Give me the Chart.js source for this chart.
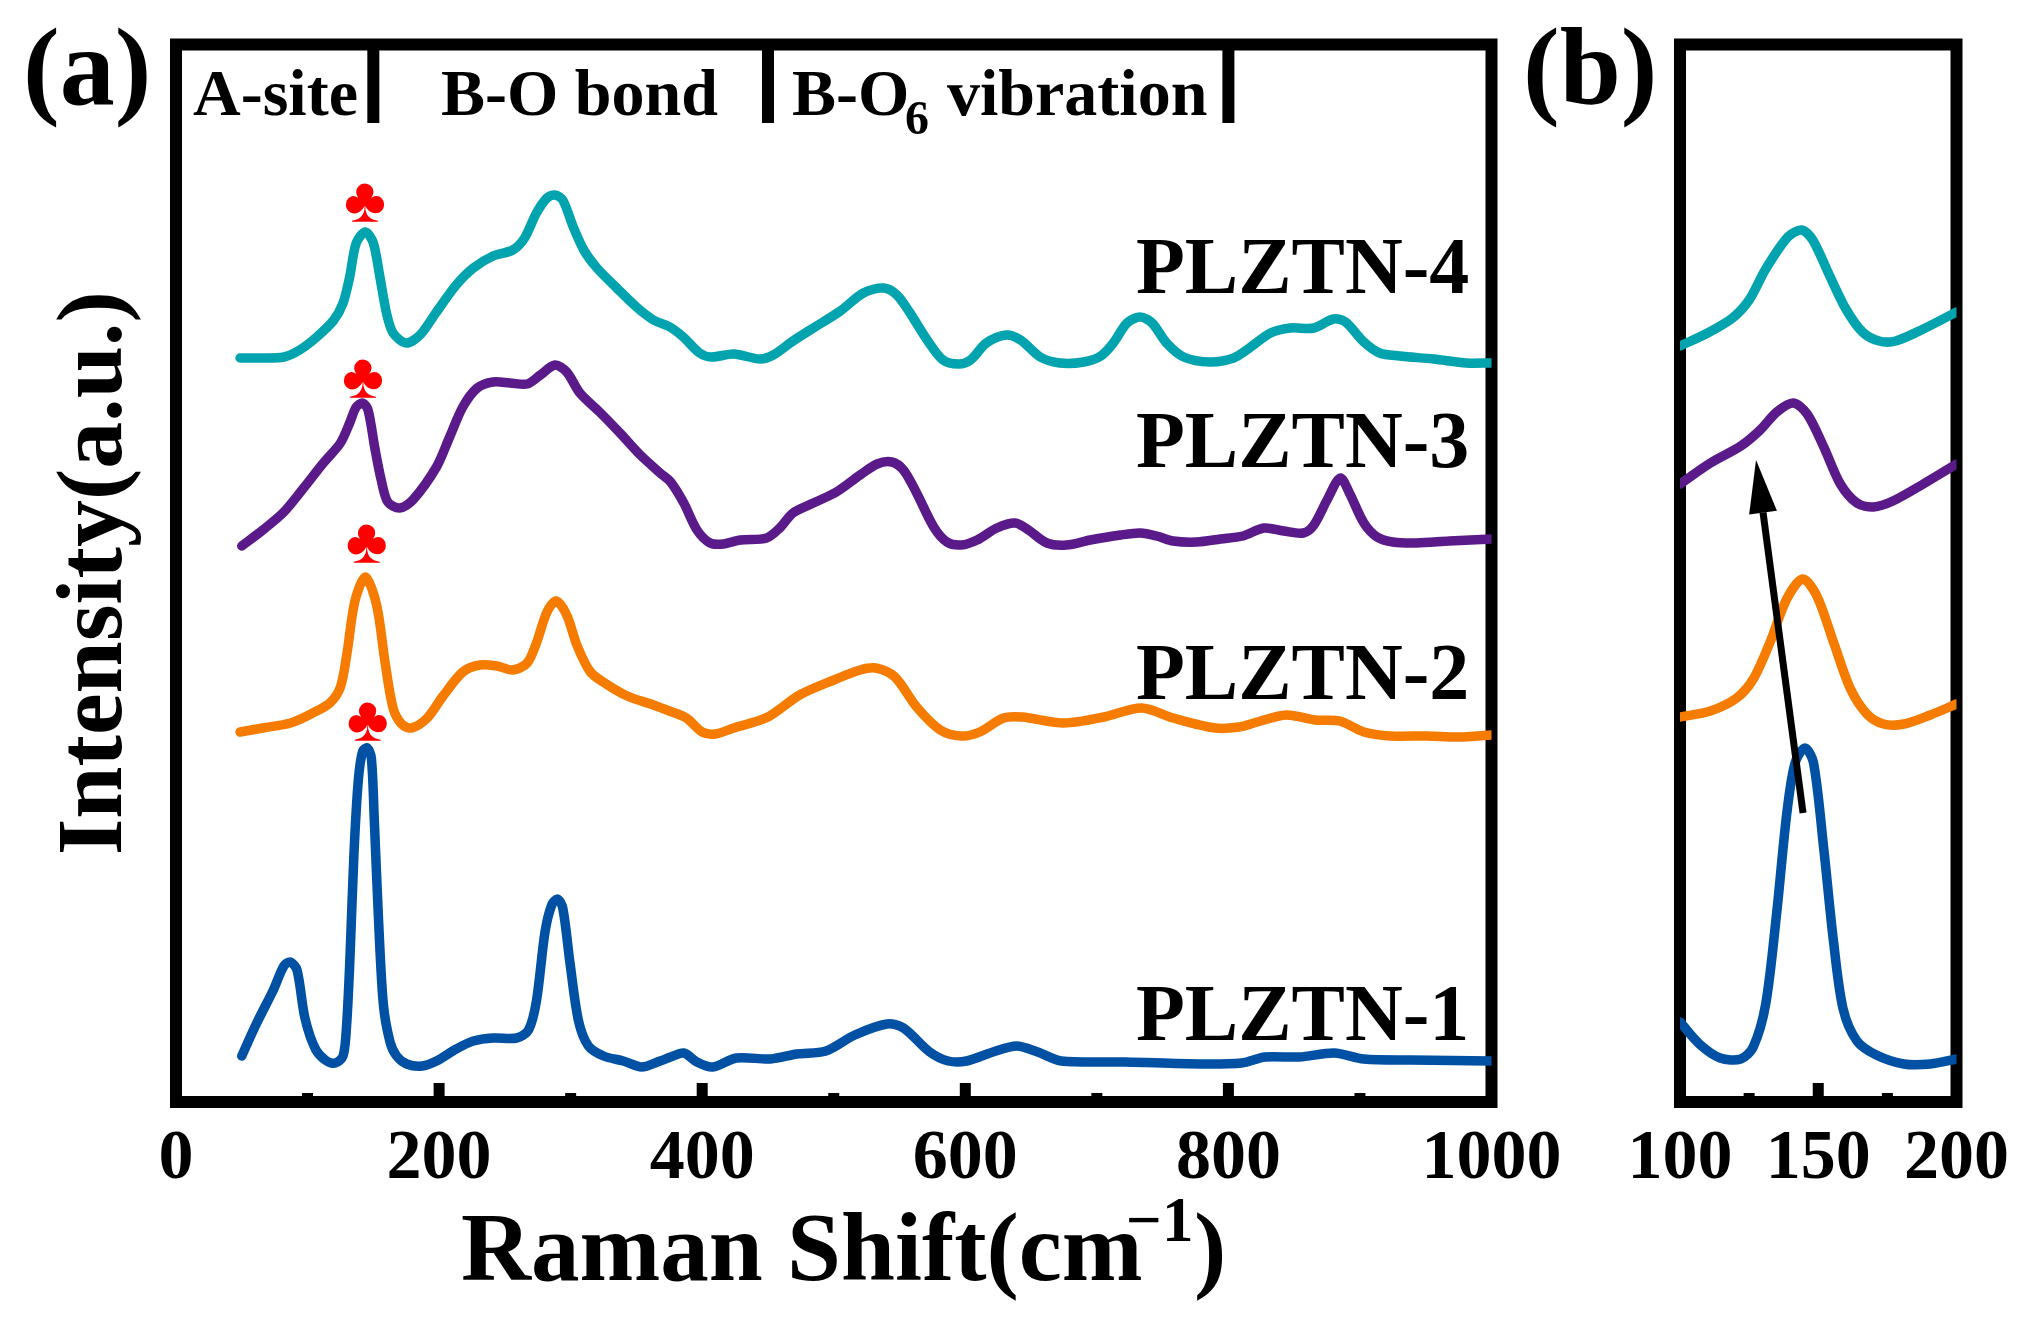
<!DOCTYPE html>
<html>
<head>
<meta charset="utf-8">
<title>Raman spectra of PLZTN</title>
<script src="https://cdn.jsdelivr.net/npm/chart.js@4"></script>
<style>
  html, body { margin: 0; padding: 0; background: #fff; }
  #page { position: relative; width: 2032px; height: 1332px; overflow: hidden; }
  .box { position: absolute; top: 0; height: 1332px; }
  #boxA { left: 0; width: 1570px; }
  #boxB { left: 1520px; width: 512px; }
</style>
</head>
<body>
<div id="page">
  <div class="box" id="boxA"><canvas id="graficoA"></canvas></div>
  <div class="box" id="boxB"><canvas id="graficoB"></canvas></div>
</div>
<script>
// panel (a), full range
const shift4 = [48.7,66,82,94,107,120,127,132,137,144,150,155,160,165,175,185.5,198,213,226,241,256,265,274,282,288,294,302,310,320,335,350,363,375.5,385.6,398,407,424,444,454,469,484.5,505,522.5,538,548,558,571,583,595,604,616,631,642,657,672,690,703,712.5,723,733,742,753,766,786,804,816,832,847,865,880,889,903,915,930,956,981,1000];
const int4 = [744,744,745,752,765,782,799,825,859,870,859,825,789,769,759,767,790,817,834,846,852,864,889,904,907,902,875,852,834,814,795,782,775,765,749,745,748,743,747,761,774,791,809,814,807,789,762,742,738,742,759,767,762,745,739,740,746,759,779,785,779,759,745,740,744,754,769,774,774,783,780,760,749,746,743,739,739];

const shift3 = [50,66,82,97,112,125,132,137,142,146,151,156,161,170,180,198,208,218,229,241,254,267,277,288,297,307,322,337.5,353,368,376,386,396,406,416,429,449,459,469,484.5,502,520,533,544,553,563,576,586,597,609,624,638,648,662,677,695,718,733,745.5,758,776,794,811,827,842,857,865,875,885,892,903,913,925,943,968,1000];
const int3 = [556,572,590,614,639,659,679,695,699,692,655,622,600,594,602,635,665,695,714,720,719,718,727,737,730,709,690,669,647,629,620,599,572,559,558,562,564,574,589,599,610,627,638,640,632,609,575,560,557,562,574,579,572,559,557,562,567,569,566,561,560,563,566,574,571,569,577,602,624,609,579,565,560,559,561,563];

const shift2 = [48.7,66,87,104,117,125,130,136,144,152.5,159,165,171.5,179,191,203,218,231,244,256,267,274,282,289,297,305,315,327,343,363,375,388,400,410,424,450,474,500,520,532,546.5,563,581,597,611,629,643,675,705.5,734,758,790,808,822,844,866,884.5,903,923,951,975,1000];
const int2 = [370,374,379,389,399,415,449,501,525,497,439,394,378,374,384,406,430,437,436,432,439,459,490,501,487,456,430,418,406,397,391,384,370,368,374,385,407,422,432,434,425,395,372,366,370,384,385,379,385,394,384,374,375,380,387,382,381,370,366,366,365,367];

const shift1 = [50,61,74,82,87,92,98,106,114.5,121,127,129.7,132.3,135.3,138.6,141.9,145.4,148.5,150.8,153.8,157.6,162.7,167.7,175.4,187,198,213,226,241,259,268,274,280.5,285.6,290,294,299.5,306,313.5,325,340,354,368,376,386,396,408,426,452,472,494,516,540.5,553,573,587,601,621,639,655,673,722,778,810,828,854,880.5,903,939,1000];
const int1 = [46,78,112,136,140,132,84,53,41,39,46,77,146,249,322,351,354,344,280,187,98,60,46,38,36,41,53,61,64,64,72,101,170,197,203,194,139,81,56,46,41,35,41,45,49,40,35,44,43,48,51,67,78,74,50,41,41,50,56,50,41,40,38,39,45,45,49,43,42,41];

// panel (b), zoom on the A-site peak
const zoomShift4 = [100,110,119,125,131,139,144,148,154,160,166,172,178,188,200];
const zoomInt4 = [756,769,784,802,833,865,872,862,827,793,770,761,761,773,790];
const zoomShift3 = [100,111,122,129,135,141,146,152,158,164,170,177,188,200];
const zoomInt3 = [618,639,656,672,690,699,688,655,618,599,595,601,618,638];
const zoomShift2 = [100,111,120.5,126.5,132.6,138.6,144.4,149.5,155.5,161.5,167.6,173.6,181,190.5,200];
const zoomInt2 = [385,391,404,423,460,503,523,506,460,414,388,378,378,387,398];
const zoomShift1 = [100,107,114.5,122,126.5,131,135,138.6,141.6,145.2,148.3,152,155.5,159,164,171,181,190.5,200];
const zoomInt1 = [80,58,44,43,55,98,190,288,339,354,339,253,161,93,61,47,38,38,43];

const nomes = ['PLZTN-1', 'PLZTN-2', 'PLZTN-3', 'PLZTN-4'];
const cores = ['#0050A3', '#F57C00', '#5A1A8A', '#00A3AE'];

// red club marks above the A-site peak
const clubShift = [145.8, 145, 142.2, 143.7];
const clubInt = [361, 539, 704, 880];

const dividers = [150, 450, 800];
const dividerTop = 1057;
const dividerBottom = 979;

// arrow in panel (b): tail then tip
const arrowShift = [144.5, 127.5];
const arrowInt = [289, 642];

const ticksA = [0,100,200,300,400,500,600,700,800,900,1000];
const ticksB = [100,125,150,175,200];

const serif = '"Liberation Serif", "Times New Roman", serif';
Chart.defaults.font.family = serif;
Chart.defaults.font.weight = 'bold';
Chart.defaults.color = '#000';

function pontos(xs, ys) {
  return xs.map((x, i) => ({ x: x, y: ys[i] }));
}

function serie(nome, cor, xs, ys) {
  return {
    label: nome,
    data: pontos(xs, ys),
    borderColor: cor,
    borderWidth: 9.5,
    borderCapStyle: 'round',
    borderJoinStyle: 'round',
    pointRadius: 0,
    tension: 0.3
  };
}

function texto(c, str, x, y, tam, cor) {
  c.font = 'bold ' + tam + 'px ' + serif;
  c.fillStyle = cor || '#000';
  c.fillText(str, x, y);
}

// frame and inward ticks, under the curves
const moldura = {
  id: 'moldura',
  beforeDatasetsDraw(chart) {
    const c = chart.ctx;
    const a = chart.chartArea;
    const sx = chart.scales.x;
    c.save();
    c.strokeStyle = '#000';
    c.lineWidth = 12;
    c.strokeRect(a.left, a.top, a.right - a.left, a.bottom - a.top);
    c.fillStyle = '#000';
    sx.ticks.forEach((t) => {
      if (t.value === sx.min || t.value === sx.max) return;
      const px = sx.getPixelForValue(t.value);
      const alto = t.label ? 19 : 9;
      c.fillRect(px - 5.5, a.bottom - alto, 11, alto);
    });
    c.restore();
  }
};

// section bars, clubs, curve names and the x title for panel (a)
const textosA = {
  id: 'textosA',
  afterDatasetsDraw(chart) {
    const c = chart.ctx;
    const sx = chart.scales.x;
    const sy = chart.scales.y;
    c.save();
    c.textBaseline = 'alphabetic';
    c.textAlign = 'left';
    c.fillStyle = '#000';
    dividers.forEach((d) => {
      c.fillRect(sx.getPixelForValue(d) - 6, sy.getPixelForValue(dividerTop), 12, sy.getPixelForValue(dividerBottom) - sy.getPixelForValue(dividerTop));
    });
    texto(c, '(a)', 23, 104, 110);
    texto(c, 'A-site', 193, 115, 66);
    texto(c, 'B-O bond', 441, 115, 66);
    texto(c, 'B-O', 792, 115, 66);
    texto(c, '6', 905, 134, 48);
    texto(c, 'vibration', 947, 115, 66);
    texto(c, nomes[3], 1136, 293, 80);
    texto(c, nomes[2], 1136, 467, 80);
    texto(c, nomes[1], 1136, 699, 80);
    texto(c, nomes[0], 1136, 1040, 80);
    texto(c, 'Raman Shift(cm', 461, 1280, 97);
    texto(c, '\u22121', 1126, 1241, 63);
    texto(c, ')', 1194, 1280, 97);
    c.textAlign = 'center';
    c.font = '64px "Liberation Serif"';
    c.fillStyle = '#FF0000';
    clubShift.forEach((s, i) => {
      c.fillText('\u2663', sx.getPixelForValue(s), sy.getPixelForValue(clubInt[i]));
    });
    c.restore();
  }
};

// panel letter and arrow for panel (b)
const textosB = {
  id: 'textosB',
  afterDatasetsDraw(chart) {
    const c = chart.ctx;
    const sx = chart.scales.x;
    const sy = chart.scales.y;
    const x0 = sx.getPixelForValue(arrowShift[0]);
    const y0 = sy.getPixelForValue(arrowInt[0]);
    const x1 = sx.getPixelForValue(arrowShift[1]);
    const y1 = sy.getPixelForValue(arrowInt[1]);
    const ang = Math.atan2(y1 - y0, x1 - x0);
    const cab = 53;
    const meia = 14;
    const bx = x1 - cab * Math.cos(ang);
    const by = y1 - cab * Math.sin(ang);
    c.save();
    c.strokeStyle = '#000';
    c.fillStyle = '#000';
    c.lineWidth = 7;
    c.beginPath();
    c.moveTo(x0, y0);
    c.lineTo(bx, by);
    c.stroke();
    c.beginPath();
    c.moveTo(x1, y1);
    c.lineTo(bx - meia * Math.sin(ang), by + meia * Math.cos(ang));
    c.lineTo(bx + meia * Math.sin(ang), by - meia * Math.cos(ang));
    c.closePath();
    c.fill();
    c.textBaseline = 'alphabetic';
    c.textAlign = 'left';
    texto(c, '(b)', 3, 104, 110);
    c.restore();
  }
};

function eixoX(min, max, marcas, passoRotulo) {
  return {
    type: 'linear',
    min: min,
    max: max,
    afterBuildTicks(s) { s.ticks = marcas.map((v) => ({ value: v })); },
    afterFit(s) {
      s.height = 230;
      s.paddingLeft = 0;
      s.paddingRight = 0;
    },
    grid: { display: false },
    border: { display: false },
    ticks: {
      autoSkip: false,
      maxRotation: 0,
      padding: 8,
      font: { size: 70, weight: 'bold' },
      callback: (v) => ((v - min) % passoRotulo === 0 ? String(v) : '')
    }
  };
}

new Chart(document.getElementById('graficoA'), {
  type: 'line',
  data: {
    datasets: [
      serie(nomes[0], cores[0], shift1, int1),
      serie(nomes[1], cores[1], shift2, int2),
      serie(nomes[2], cores[2], shift3, int3),
      serie(nomes[3], cores[3], shift4, int4)
    ]
  },
  options: {
    responsive: true,
    maintainAspectRatio: false,
    animation: false,
    layout: { autoPadding: false, padding: { top: 44.5, right: 78.5 } },
    plugins: { legend: { display: false }, tooltip: { enabled: false } },
    scales: {
      x: eixoX(0, 1000, ticksA, 200),
      y: {
        min: 0,
        max: 1057.5,
        afterFit(s) { s.width = 176; },
        grid: { display: false },
        border: { display: false },
        ticks: { display: false },
        title: {
          display: true,
          text: 'Intensity(a.u.)',
          font: { size: 94, weight: 'bold' },
          padding: { top: 40, bottom: 0 }
        }
      }
    }
  },
  plugins: [moldura, textosA]
});

new Chart(document.getElementById('graficoB'), {
  type: 'line',
  data: {
    datasets: [
      serie(nomes[0], cores[0], zoomShift1, zoomInt1),
      serie(nomes[1], cores[1], zoomShift2, zoomInt2),
      serie(nomes[2], cores[2], zoomShift3, zoomInt3),
      serie(nomes[3], cores[3], zoomShift4, zoomInt4)
    ]
  },
  options: {
    responsive: true,
    maintainAspectRatio: false,
    animation: false,
    layout: { autoPadding: false, padding: { top: 44.5, left: 160, right: 75.5 } },
    plugins: { legend: { display: false }, tooltip: { enabled: false } },
    scales: {
      x: eixoX(100, 200, ticksB, 50),
      y: { display: false, min: 0, max: 1057.5 }
    }
  },
  plugins: [moldura, textosB]
});
</script>
</body>
</html>
